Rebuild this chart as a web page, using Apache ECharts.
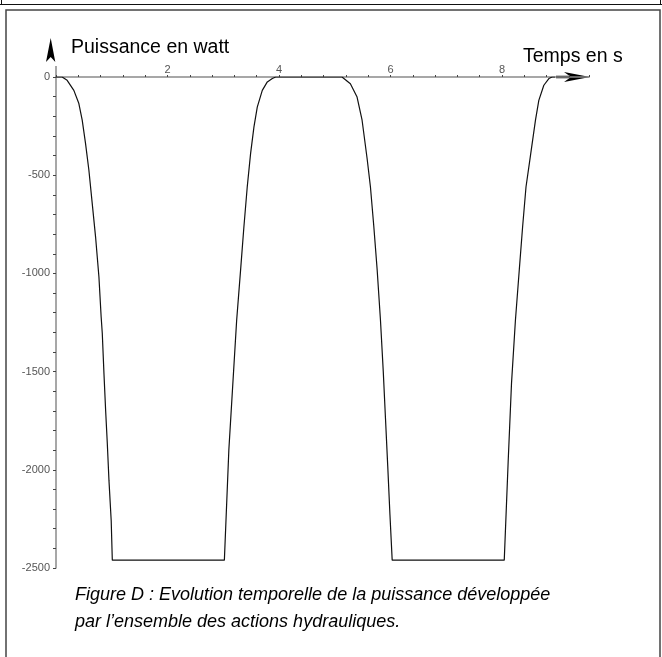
<!DOCTYPE html>
<html>
<head>
<meta charset="utf-8">
<title>Figure D</title>
<script src="https://cdn.jsdelivr.net/npm/echarts@6/dist/echarts.min.js"></script>
<style>
  html, body { margin: 0; padding: 0; background: #fff; }
  #chart1 { width: 662px; height: 657px; }
</style>
</head>
<body>
<div id="chart1"></div>
<script>
// temps (s) et puissance (W)
var tempsS = [
    0, 0.11, 0.2, 0.32, 0.41, 0.47, 0.53, 0.59, 0.65, 0.71, 0.77, 0.81, 0.83, 0.86, 0.89, 0.92, 0.95, 0.99, 1.01,
    3.02, 3.10, 3.24, 3.31, 3.37, 3.43, 3.49, 3.55, 3.61, 3.70, 3.79, 3.88, 3.94,
    5.13, 5.28, 5.40, 5.49, 5.58, 5.64, 5.70, 5.76, 5.82, 5.87, 5.91, 5.95, 5.99, 6.03,
    8.04, 8.11, 8.17, 8.24, 8.31, 8.37, 8.43, 8.51, 8.60, 8.66, 8.75, 8.84, 8.90, 8.95
];
var puissanceW = [
    0, 0, -17, -68, -135, -220, -339, -475, -645, -815, -1018, -1222, -1305, -1509, -1697, -1865, -2054, -2258, -2460,
    -2460, -1900, -1240, -986, -764, -560, -390, -255, -153, -68, -25, -8, 0,
    0, -34, -102, -220, -415, -560, -760, -980, -1240, -1500, -1740, -1980, -2230, -2460,
    -2460, -1960, -1560, -1240, -980, -760, -560, -400, -220, -119, -42, -8, 0, 0
];
var xLabels = [2, 4, 6, 8];
var yLabels = [0, -500, -1000, -1500, -2000, -2500];

var tickFont = 'Liberation Sans, Arial, sans-serif';

var points = [];
for (var i = 0; i < tempsS.length; i++) {
    points.push([tempsS[i], puissanceW[i]]);
}

var mychart = echarts.init(document.getElementById('chart1'));

var axisGray = '#8a8a8a';

var option = {
    backgroundColor: '#fff',
    animation: false,
    grid: { left: 56, top: 77, width: 533, height: 491 },
    xAxis: {
        type: 'value',
        position: 'top',
        min: 0,
        max: 9.56,
        interval: 0.4,
        axisLine: { show: true, onZero: false, lineStyle: { color: axisGray, width: 1.5 } },
        axisTick: { show: true, length: 2, lineStyle: { color: '#444', width: 1 } },
        splitLine: { show: false },
        axisLabel: {
            margin: 2,
            fontFamily: tickFont,
            fontSize: 11,
            color: '#555',
            formatter: function (v) {
                var r = Math.round(v);
                if (Math.abs(v - r) < 1e-6 && xLabels.indexOf(r) >= 0) return String(r);
                return '';
            }
        }
    },
    yAxis: {
        type: 'value',
        min: -2500,
        max: 0,
        interval: 100,
        axisLine: { show: true, onZero: false, lineStyle: { color: axisGray, width: 1.5 } },
        axisTick: { show: true, length: 3, lineStyle: { color: '#444', width: 1 } },
        splitLine: { show: false },
        axisLabel: {
            margin: 6,
            fontFamily: tickFont,
            fontSize: 11,
            color: '#555',
            formatter: function (v) {
                var r = Math.round(v);
                if (yLabels.indexOf(r) >= 0) return String(r);
                return '';
            }
        }
    },
    series: [{
        name: 'Puissance',
        type: 'line',
        data: points,
        showSymbol: false,
        lineStyle: { color: '#111', width: 1.2 },
        z: 3
    }],
    graphic: [
        // cadres
        { type: 'line', shape: { x1: 0, y1: 4.5, x2: 662, y2: 4.5 }, style: { stroke: '#111', lineWidth: 1 } },
        { type: 'line', shape: { x1: 1.5, y1: 0, x2: 1.5, y2: 4.5 }, style: { stroke: '#111', lineWidth: 1 } },
        { type: 'line', shape: { x1: 660.5, y1: 0, x2: 660.5, y2: 4.5 }, style: { stroke: '#111', lineWidth: 1 } },
        { type: 'rect', shape: { x: 6, y: 10, width: 654, height: 660 }, style: { fill: 'none', stroke: '#444', lineWidth: 1.5 } },
        // prolongement de l'axe vertical
        { type: 'line', shape: { x1: 56, y1: 66, x2: 56, y2: 77 }, style: { stroke: axisGray, lineWidth: 1.5 } },
        // flèches
        { type: 'polygon', shape: { points: [[50.7, 38], [46, 62], [50.7, 57], [55.3, 62]] }, style: { fill: '#000' } },
        { type: 'line', shape: { x1: 556, y1: 77, x2: 572, y2: 77 }, style: { stroke: '#000', lineWidth: 2.5 } },
        { type: 'polygon', shape: { points: [[590, 77], [564, 72], [571, 77], [564, 82]] }, style: { fill: '#000' } },
        // titres des axes
        { type: 'text', x: 71, y: 48, style: { text: 'Puissance en watt', font: '19.5px Liberation Sans, Arial, sans-serif', fill: '#000', textVerticalAlign: 'middle' } },
        { type: 'text', x: 523, y: 57, style: { text: 'Temps en s', font: '19.5px Liberation Sans, Arial, sans-serif', fill: '#000', textVerticalAlign: 'middle' } },
        // légende de la figure
        { type: 'text', x: 75, y: 595, style: { text: 'Figure D : Evolution temporelle de la puissance développée', font: 'italic 18px Liberation Sans, Arial, sans-serif', fill: '#000', textVerticalAlign: 'middle' } },
        { type: 'text', x: 75, y: 622, style: { text: 'par l’ensemble des actions hydrauliques.', font: 'italic 18px Liberation Sans, Arial, sans-serif', fill: '#000', textVerticalAlign: 'middle' } }
    ]
};

mychart.setOption(option);
</script>
</body>
</html>
